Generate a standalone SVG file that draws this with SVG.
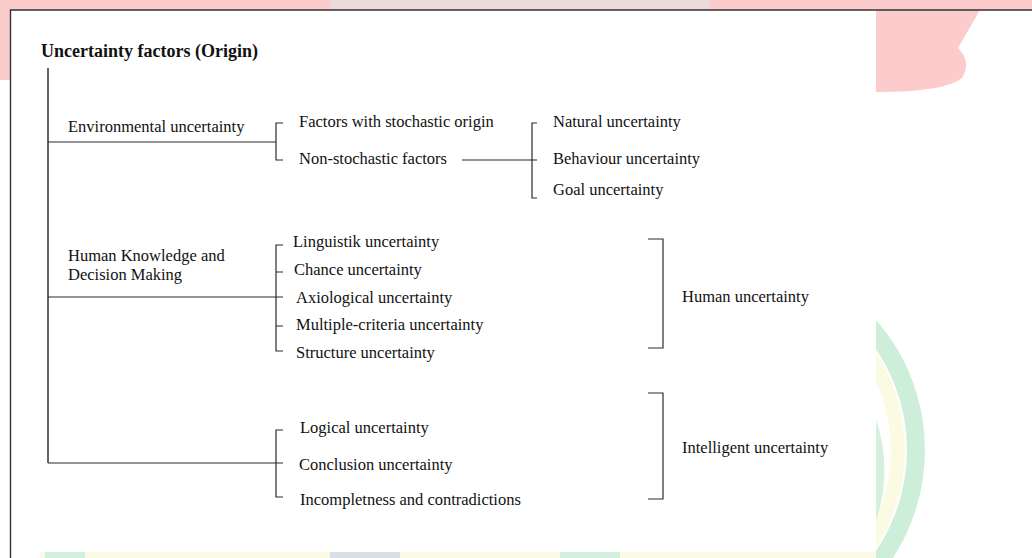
<svg xmlns="http://www.w3.org/2000/svg" width="1032" height="558" viewBox="0 0 1032 558">
  <style>
    .lbl { font-family: "Liberation Serif", "Times New Roman", serif; font-size: 16.5px; fill: #111; }
    .ttl { font-family: "Liberation Serif", "Times New Roman", serif; font-size: 18px; font-weight: bold; fill: #111; }
    .ln { fill: none; stroke: #2b2b2b; stroke-width: 1.2; }
    .trunk { fill: none; stroke: #666; stroke-width: 2; }
    .frame { fill: none; stroke: #333; stroke-width: 1.4; }
  </style>

  <!-- faint emblem behind the page -->
  <g id="emblem">
    <rect x="0" y="0" width="1032" height="558" fill="#ffffff"/>
    <path d="M0,0 H1032 V10 H980 L958,48 Q972,62 962,78 Q945,92 876,92 V10 H10 V80 H0 Z" fill="#fccccc"/>
    <rect x="330" y="0" width="380" height="9" fill="#eedada"/>
    <circle cx="728" cy="450" r="188" fill="none" stroke="#cdeed9" stroke-width="18"/>
    <circle cx="728" cy="450" r="170" fill="none" stroke="#fbfbe4" stroke-width="14"/>
    <circle cx="728" cy="470" r="152" fill="none" stroke="#d6f0df" stroke-width="9"/>
    <rect x="40" y="551" width="836" height="7" fill="#fbfbe4"/>
    <rect x="45" y="551" width="40" height="7" fill="#d0efdc"/>
    <rect x="330" y="551" width="70" height="7" fill="#dadfe7"/>
    <rect x="560" y="551" width="60" height="7" fill="#d0efdc"/>
  </g>

  <!-- page -->
  <rect x="11" y="10.5" width="865" height="541.5" fill="#ffffff"/>
  <path class="frame" d="M10.5,558 V10 H1032"/>

  <!-- connectors -->
  <g id="connectors">
    <path class="trunk" d="M48,68 V463"/>
    <path class="ln" d="M48,142 H276"/>
    <path class="ln" d="M283,123 H276 V160 H283"/>
    <path class="ln" d="M462,160 H537"/>
    <path class="ln" d="M537,123 H532 V198 H537"/>
    <path class="ln" d="M48,297 H283"/>
    <path class="ln" d="M283,245 H276 V351 H283 M276,272 H283 M276,326 H283"/>
    <path class="ln" d="M648,239 H663 V348 H648"/>
    <path class="ln" d="M48,463 H283"/>
    <path class="ln" d="M283,430 H276 V497 H283"/>
    <path class="ln" d="M648,393 H663 V499 H648"/>
  </g>

  <g id="root"><text class="ttl" x="41" y="57">Uncertainty factors (Origin)</text></g>

  <g id="environmental"><text class="lbl" x="68" y="132">Environmental uncertainty</text></g>
  <g id="stochastic"><text class="lbl" x="299" y="127">Factors with stochastic origin</text></g>
  <g id="non-stochastic"><text class="lbl" x="299" y="164">Non-stochastic factors</text></g>
  <g id="natural"><text class="lbl" x="553" y="127">Natural uncertainty</text></g>
  <g id="behaviour"><text class="lbl" x="553" y="164">Behaviour uncertainty</text></g>
  <g id="goal"><text class="lbl" x="553" y="195">Goal uncertainty</text></g>

  <g id="human-knowledge">
    <text class="lbl" x="68" y="261">Human Knowledge and</text>
    <text class="lbl" x="68" y="280">Decision Making</text>
  </g>
  <g id="linguistik"><text class="lbl" x="293" y="247">Linguistik uncertainty</text></g>
  <g id="chance"><text class="lbl" x="294" y="275">Chance uncertainty</text></g>
  <g id="axiological"><text class="lbl" x="296" y="303">Axiological uncertainty</text></g>
  <g id="multiple-criteria"><text class="lbl" x="296" y="330">Multiple-criteria uncertainty</text></g>
  <g id="structure"><text class="lbl" x="296" y="358">Structure uncertainty</text></g>
  <g id="human"><text class="lbl" x="682" y="302">Human uncertainty</text></g>

  <g id="logical"><text class="lbl" x="300" y="433">Logical uncertainty</text></g>
  <g id="conclusion"><text class="lbl" x="299" y="470">Conclusion uncertainty</text></g>
  <g id="incompleteness"><text class="lbl" x="300" y="505">Incompletness and contradictions</text></g>
  <g id="intelligent"><text class="lbl" x="682" y="453">Intelligent uncertainty</text></g>
</svg>
